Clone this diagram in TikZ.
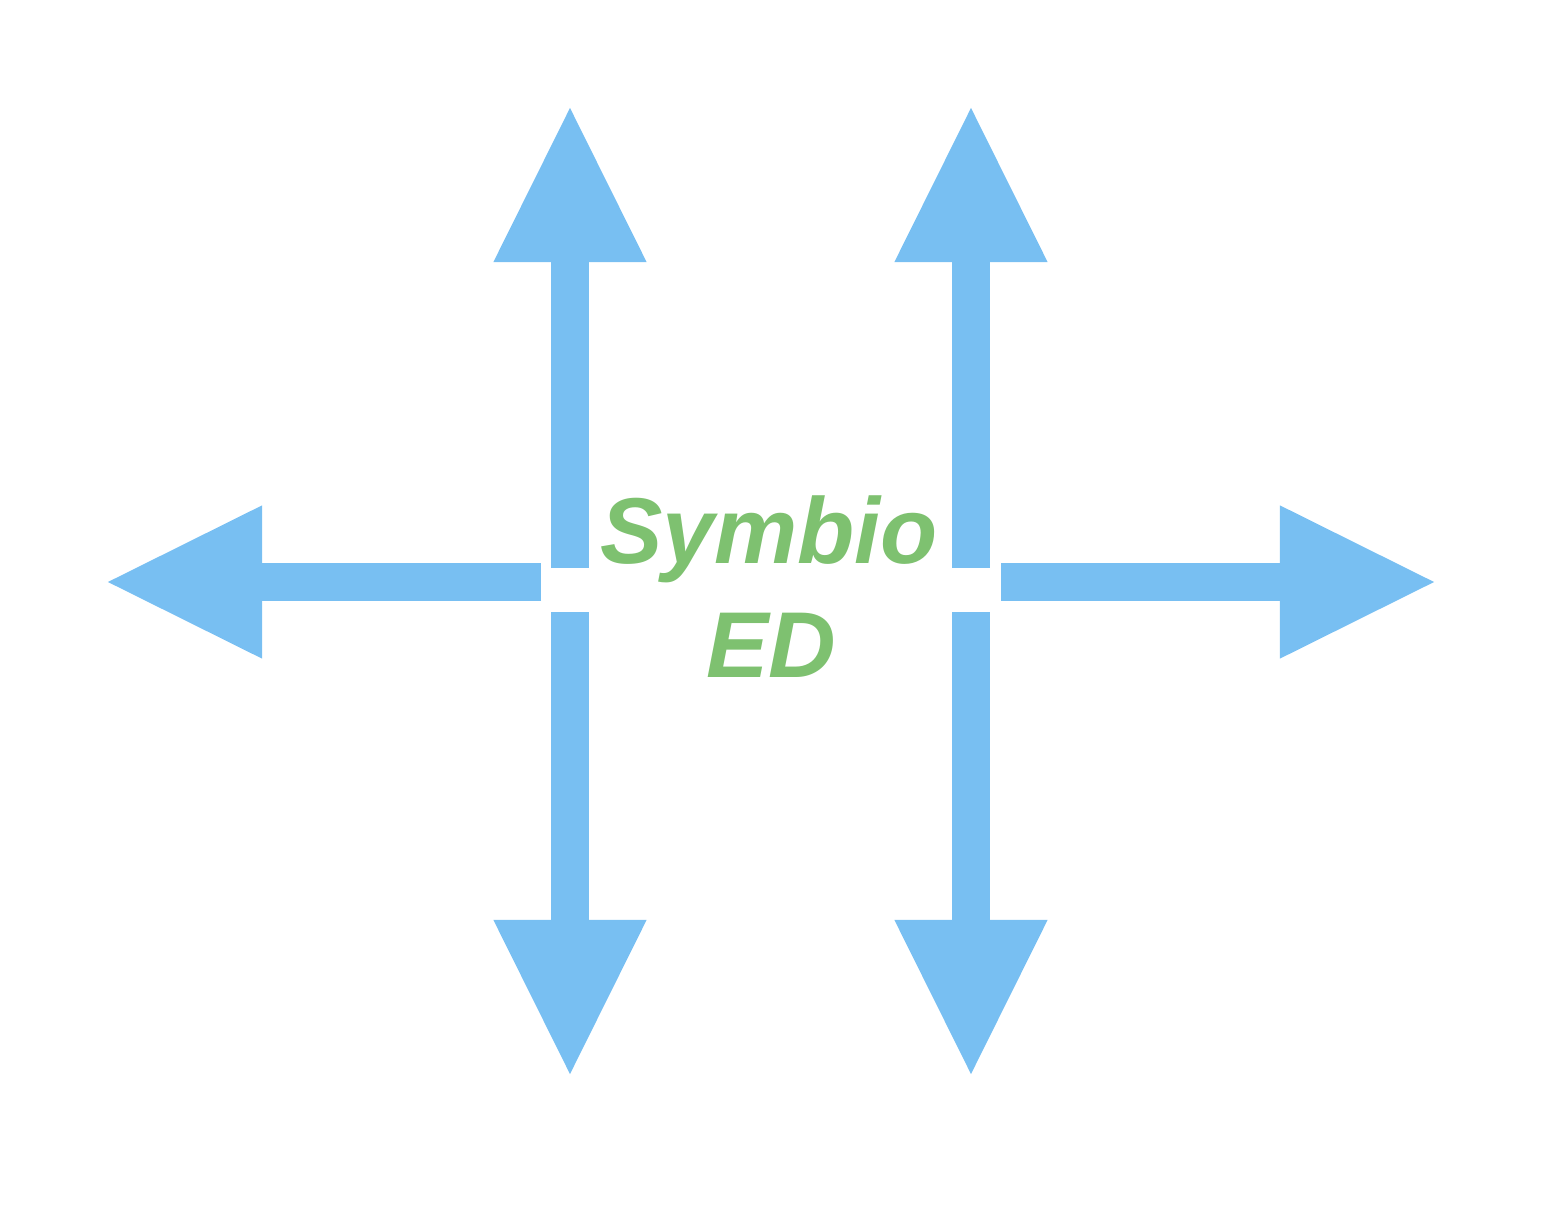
\documentclass[tikz,border=0pt]{standalone}
\usepackage{fontspec}
\usepackage{tikz}
\usetikzlibrary{positioning,calc,arrows.meta}
\newfontfamily\logofont{Liberation Sans}
\definecolor{arrowblue}{HTML}{78BFF2}
\definecolor{logogreen}{HTML}{7EC170}
\tikzset{
	bigarrow/.style={arrowblue, line width=0.38cm, line cap=butt, -{Triangle[length=1.58cm 0 0, width=1.41cm 0 0]}},
	logotext/.style={logogreen, font=\logofont\bfseries\itshape\fontsize{26.6}{32.4}\selectfont, inner sep=0pt, anchor=base}
}

\begin{document}
\begin{tikzpicture}[x=0.01cm, y=-0.01cm]
	\useasboundingbox (0, 0) rectangle (1556, 1212);

	\coordinate (UL0) at (570, 568);
	\coordinate (UL1) at (570, 104);
	\coordinate (UR0) at (971, 568);
	\coordinate (UR1) at (971, 104);

	\coordinate (DL0) at (570, 612);
	\coordinate (DL1) at (570, 1078);
	\coordinate (DR0) at (971, 612);
	\coordinate (DR1) at (971, 1078);

	\coordinate (L0) at (541, 582);
	\coordinate (L1) at (104, 582);
	\coordinate (R0) at (1001, 582);
	\coordinate (R1) at (1438, 582);

	\draw[bigarrow] (UL0) -- (UL1);
	\draw[bigarrow] (UR0) -- (UR1);
	\draw[bigarrow] (DL0) -- (DL1);
	\draw[bigarrow] (DR0) -- (DR1);
	\draw[bigarrow] (L0) -- (L1);
	\draw[bigarrow] (R0) -- (R1);

	\node[logotext] (SYMBIO) at (769, 563) {Symbio};
	\node[logotext] (ED) at (771, 677) {ED};
\end{tikzpicture}
\end{document}
